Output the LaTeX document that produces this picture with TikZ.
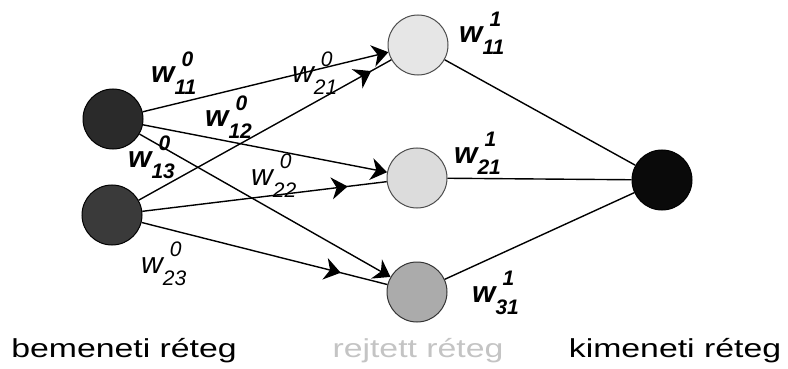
\documentclass[tikz,border=0pt]{standalone}
\usepackage{fontspec}
\setmainfont{Liberation Sans}
\newfontfamily\layerfont[FakeStretch=1.3]{Liberation Sans}
\usetikzlibrary{arrows.meta,decorations.markings,calc,positioning}
\definecolor{inDark}{HTML}{2A2A2A}
\definecolor{inMid}{HTML}{3A3A3A}
\definecolor{hidLight}{HTML}{E6E6E6}
\definecolor{hidMid}{HTML}{DCDCDC}
\definecolor{hidDark}{HTML}{ABABAB}
\definecolor{outDark}{HTML}{0A0A0A}
\definecolor{layerGray}{HTML}{C4C4C4}
\newcommand{\wgt}[3][\bfseries]{{#1\itshape w\makebox[0pt][l]{\hspace{7pt}\raisebox{17pt}{\fontsize{21}{21}\selectfont #2}}\raisebox{-12pt}{\fontsize{21}{21}\selectfont #3}}}
\tikzset{
  neuron/.style={circle,draw,line width=1pt,minimum size=60pt,inner sep=0pt},
  edge/.style={line width=1.4pt},
  endarrow/.style={-{Stealth[length=16pt,width=22pt,inset=5pt]}},
  midarrow/.style={postaction={decorate},decoration={markings,
    mark=at position #1 with {\arrow{Stealth[length=16pt,width=22pt,inset=5pt]}}}},
  wlabel/.style={anchor=base west,inner sep=0pt,font=\fontsize{30}{30}\selectfont},
  layer/.style={anchor=base,inner sep=0pt,font=\layerfont\fontsize{26}{26}\selectfont}
}
\begin{document}
\begin{tikzpicture}[x=1pt,y=-1pt]
  \useasboundingbox (0,0) rectangle (788,369);
  % neurons
  \node[neuron,fill=inDark,draw=black] (i1) at (113,119) {};
  \node[neuron,fill=inMid,draw=black] (i2) at (112,215) {};
  \node[neuron,fill=hidLight,draw=black!70] (h1) at (418,45) {};
  \node[neuron,fill=hidMid,draw=black!70] (h2) at (417,178) {};
  \node[neuron,fill=hidDark,draw=black!80] (h3) at (417,292) {};
  \node[neuron,fill=outDark,draw=black] (o) at (662,180) {};
  % input -> hidden
  \draw[edge,endarrow] (i1) -- (h1);
  \draw[edge,endarrow] (i1) -- (h2);
  \draw[edge,endarrow] (i1) -- (h3);
  \draw[edge,midarrow=0.92] (i2) -- (h1);
  \draw[edge,midarrow=0.84] (i2) -- (h2);
  \draw[edge,midarrow=0.81] (i2) -- (h3);
  % hidden -> output
  \foreach \h in {h1,h2,h3}
    \draw[edge] (\h) -- (o);
  % weights
  \node[wlabel] (w011) at (151,83) {\wgt{0}{11}};
  \node[wlabel] (w021) at (292,83) {\wgt[\mdseries]{0}{21}};
  \node[wlabel] (w012) at (205,127) {\wgt{0}{12}};
  \node[wlabel] (w013) at (128,167) {\wgt{0}{13}};
  \node[wlabel] (w022) at (251,185) {\wgt[\mdseries]{0}{22}};
  \node[wlabel] (w023) at (141,273) {\wgt[\mdseries]{0}{23}};
  \node[wlabel] (w111) at (459,43) {\wgt{1}{11}};
  \node[wlabel] (w121) at (454,163) {\wgt{1}{21}};
  \node[wlabel] (w131) at (472,302) {\wgt{1}{31}};
  % layers
  \node[layer] (lin) at (124,357) {bemeneti réteg};
  \node[layer,text=layerGray] (lhid) at (418,357) {rejtett réteg};
  \node[layer] (lout) at (675,357) {kimeneti réteg};
\end{tikzpicture}
\end{document}
